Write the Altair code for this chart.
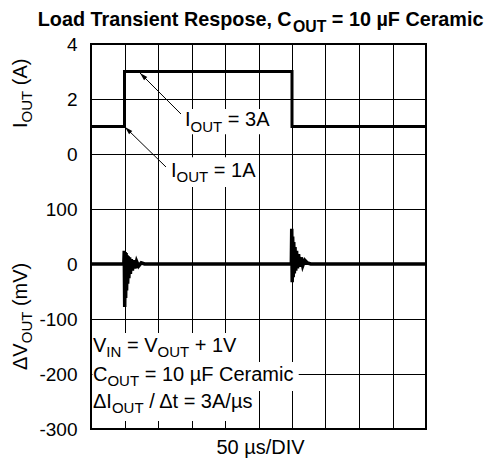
import altair as alt
import pandas as pd

# ---------------- data ----------------
# time axis: 50 us / division, 10 divisions
t_i = [0, 50, 50, 300, 300, 500]          # us
i_out = [1, 1, 3, 3, 1, 1]                # A

t_v = [0, 49.0, 49.6, 50.3, 51.0, 51.7, 52.4, 53.1, 53.9, 54.7, 55.6, 56.5, 57.6,
       58.8, 60.2, 61.8, 63.6, 65.6, 68.0, 71.0, 75.0, 80.0,
       299.0, 299.6, 300.3, 301.0, 301.8, 302.6, 303.5, 304.5, 305.6, 306.8,
       308.2, 309.8, 311.6, 313.6, 316.0, 319.0, 323.0, 328.0, 500]
dv_mv = [0, 0, 24, -78, 22, -62, 20, -48, 16, -36, 14, -26, 12,
         -18, 9, -12, 7, -8, 5, -4, 2, 0,
         0, 64, -33, 50, -24, 40, -17, 31, -12, 24,
         -8, 18, -5, 12, -3, 7, 2, 0, 0]

x_grid_values = [0, 50, 100, 150, 200, 250, 300, 350, 400, 450, 500]
y_tick_values = [400, 300, 200, 100, 0, -100, -200, -300]
y_tick_labels = ['4', '2', '0', '100', '0', '-100', '-200', '-300']

# the current trace shares the grid: 0 A sits at the 200 mV line, 1 A = 50 mV-units
I_ZERO = 200
I_SCALE = 50

FONT = "Liberation Sans, Arial, Helvetica, sans-serif"

# Arial / Liberation Sans advance widths (per 1000 em)
W_REG = {' ': 278, '(': 333, ')': 333, '+': 584, ',': 278, '-': 333, '.': 278, '/': 278,
         '=': 584, 'A': 667, 'C': 722, 'D': 722, 'F': 611, 'I': 278, 'N': 722, 'O': 778,
         'T': 611, 'U': 722, 'V': 667, 'a': 556, 'c': 500, 'e': 556, 'i': 222, 'm': 833,
         'r': 333, 's': 500, 't': 278, 'µ': 576, 'Δ': 668}
W_BOLD = {' ': 278, ',': 278, '=': 584, 'C': 722, 'F': 611, 'L': 611, 'O': 778, 'R': 722,
          'T': 611, 'U': 722, 'a': 556, 'c': 556, 'd': 611, 'e': 556, 'i': 278, 'm': 889,
          'n': 611, 'o': 611, 'p': 611, 'r': 389, 's': 556, 't': 333, 'µ': 611}


def text_width(s, size, bold=False):
    table = W_BOLD if bold else W_REG
    return sum(table.get(ch, 556) for ch in s) * size / 1000.0


# ---------------- scales / axes ----------------
label_expr = " : ".join(f"datum.value == {v} ? '{l}'" for v, l in zip(y_tick_values, y_tick_labels)) + " : ''"

xscale = alt.Scale(domain=[0, 500], nice=False, zero=False)
yscale = alt.Scale(domain=[-300, 400], nice=False, zero=False)

xaxis = alt.Axis(values=x_grid_values, grid=True, gridColor='black', gridWidth=1, gridOpacity=1,
                 ticks=False, labels=False, domain=False,
                 title='50 µs/DIV', titleFont=FONT, titleFontSize=20, titleFontWeight='normal',
                 titleColor='black', titleBaseline='alphabetic', titleY=24, titleX=169)
yaxis = alt.Axis(values=y_tick_values, labelExpr=label_expr, grid=True, gridColor='black',
                 gridWidth=1, gridOpacity=1, ticks=False, domain=False,
                 labelFont=FONT, labelFontSize=19, labelColor='black', labelPadding=14,
                 title='')

xenc = alt.X('x:Q', scale=xscale, axis=xaxis)
yenc = alt.Y('y:Q', scale=yscale, axis=yaxis)

# ---------------- layers ----------------
df_v = pd.DataFrame({'x': t_v, 'y': dv_mv, 'i': range(len(t_v))})
df_i = pd.DataFrame({'x': t_i, 'y': [I_ZERO + I_SCALE * a for a in i_out], 'i': range(len(t_i))})

# white backgrounds behind annotation text (data units)
box_x = [137, 115, 2.2, 2.2, 2.2]
box_x2 = [269, 246, 228, 310, 246]
box_y = [282, 194, -125.5, -178.2, -230.9]
box_y2 = [236, 140, -178.2, -230.9, -285.5]
df_box = pd.DataFrame({'x': box_x, 'x2': box_x2, 'y': box_y, 'y2': box_y2})

boxes = alt.Chart(df_box).mark_rect(color='white').encode(
    x=xenc, x2=alt.X2('x2'), y=yenc, y2=alt.Y2('y2'))

vline = alt.Chart(df_v).mark_line(color='black', strokeWidth=3.5, strokeJoin='miter').encode(
    x=xenc, y=yenc, order=alt.Order('i:Q'))
iline = alt.Chart(df_i).mark_line(color='black', strokeWidth=3, strokeJoin='miter').encode(
    x=xenc, y=yenc, order=alt.Order('i:Q'))

# arrows: tail -> tip
arrow_tail_t = [134.3, 111.9]
arrow_tail_v = [272.7, 176.4]
arrow_tip_t = [73.1, 50.7]
arrow_tip_v = [347.3, 249.1]
df_arr = pd.DataFrame({'x': arrow_tail_t, 'y': arrow_tail_v, 'x2': arrow_tip_t, 'y2': arrow_tip_v})
arrows = alt.Chart(df_arr).mark_rule(color='black', strokeWidth=1).encode(
    x=xenc, y=yenc, x2=alt.X2('x2'), y2=alt.Y2('y2'))
df_head = pd.DataFrame({'x': arrow_tip_t, 'y': arrow_tip_v})
heads = alt.Chart(df_head).mark_point(shape="M0,0L-1,3.6L1,3.6Z", filled=True, size=20,
                                      angle=315, color='black', opacity=1, strokeWidth=0).encode(
    x=xenc, y=yenc)


def rich(x, y, segments, angle=0, bold=False):
    """segments: list of (text, fontSize, baselineShift)"""
    layers = []
    off = 0.0
    df = pd.DataFrame({'x': [x], 'y': [y]})
    for txt, size, shift in segments:
        lead = len(txt) - len(txt.lstrip(' '))
        shown = txt.strip(' ')
        dx = off + text_width(' ' * lead, size, bold)
        if shown:
            kw = dict(text=shown, align='left', baseline='alphabetic', dx=dx, dy=shift,
                      fontSize=size, font=FONT, fontWeight='bold' if bold else 'normal',
                      color='black')
            if angle:
                kw['angle'] = angle
            layers.append(alt.Chart(df).mark_text(**kw).encode(x=xenc, y=yenc))
        off += text_width(txt, size, bold)
    return layers


texts = []
texts += rich(-79.5, 432.7, [("Load Transient Respose, C", 19.8, 0), ("OUT", 15.8, 6),
                             (" = 10 µF Ceramic", 19.8, 0)], bold=True)
texts += rich(-95.5, 247.3, [("I", 20, 0), ("OUT", 15, 5), (" (A)", 20, 0)], angle=270)
texts += rich(-95.5, -192.7, [("ΔV", 20, 0), ("OUT", 15, 5), (" (mV)", 20, 0)], angle=270)
texts += rich(140.3, 250.9, [("I", 20, 0), ("OUT", 15, 5.5), (" = 3A", 20, 0)])
texts += rich(119.4, 158.2, [("I", 20, 0), ("OUT", 15, 5.5), (" = 1A", 20, 0)])
texts += rich(3.0, -160.0, [("V", 20, 0), ("IN", 15, 5), (" = V", 20, 0), ("OUT", 15, 5),
                            (" + 1V", 20, 0)])
texts += rich(3.0, -212.7, [("C", 20, 0), ("OUT", 15, 5), (" = 10 µF Ceramic", 20, 0)])
texts += rich(3.0, -261.8, [("ΔI", 20, 0), ("OUT", 15, 5), (" / Δt = 3A/µs", 20, 0)])

chart = alt.layer(boxes, vline, iline, arrows, heads, *texts).properties(
    width=335, height=385,
    autosize=alt.AutoSizeParams(type='none'),
    padding={'left': 83, 'top': 36, 'right': 61, 'bottom': 29},
    background='white',
).configure_view(stroke='black', strokeWidth=2)

chart.save("out.html", embed_options={"renderer": "svg", "actions": False})
